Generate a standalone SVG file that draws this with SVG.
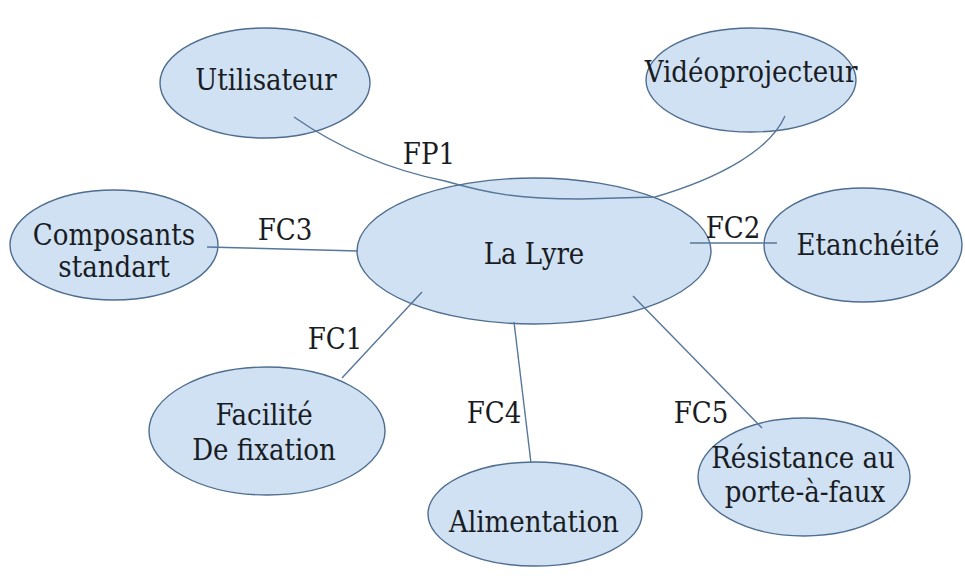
<svg xmlns="http://www.w3.org/2000/svg" width="965" height="576" viewBox="0 0 965 576">
  <style>
    .node ellipse { fill: #cfe1f2; stroke: #4f6d8f; stroke-width: 1.4; }
    .node text, .label { font-family: "DejaVu Serif Condensed", "DejaVu Serif", "Liberation Serif", serif; font-stretch: condensed; font-size: 29px; fill: #1a1c24; text-anchor: middle; }
    .edge { fill: none; stroke: #56769a; stroke-width: 1.4; }
  </style>
  <rect width="965" height="576" fill="#ffffff"/>

  <g id="la-lyre" class="node">
    <ellipse cx="534" cy="251" rx="177" ry="73"/>
    <text x="534" y="264">La Lyre</text>
  </g>
  <g id="utilisateur" class="node">
    <ellipse cx="265" cy="83" rx="105" ry="55"/>
    <text x="266" y="90">Utilisateur</text>
  </g>
  <g id="videoprojecteur" class="node">
    <ellipse cx="751" cy="80" rx="105" ry="52"/>
    <text x="751" y="82">Vidéoprojecteur</text>
  </g>
  <g id="composants" class="node">
    <ellipse cx="114" cy="245" rx="104" ry="55"/>
    <text x="114" y="245">Composants</text>
    <text x="114" y="277">standart</text>
  </g>
  <g id="etancheite" class="node">
    <ellipse cx="863" cy="245" rx="99" ry="57"/>
    <text x="868" y="255">Etanchéité</text>
  </g>
  <g id="fixation" class="node">
    <ellipse cx="267" cy="431" rx="118" ry="64"/>
    <text x="264" y="425">Facilité</text>
    <text x="264" y="460">De fixation</text>
  </g>
  <g id="alimentation" class="node">
    <ellipse cx="535" cy="514" rx="107" ry="52"/>
    <text x="534" y="532">Alimentation</text>
  </g>
  <g id="resistance" class="node">
    <ellipse cx="804" cy="477" rx="106" ry="59"/>
    <text x="803" y="468">Résistance au</text>
    <text x="805" y="502">porte-à-faux</text>
  </g>

  <g id="connectors">
    <path class="edge" d="M294,117 C330,142 380,168 445,181 C490,194 520,199 580,199 L655,197 C720,178 770,150 785,116"/>
    <line class="edge" x1="207" y1="247" x2="358" y2="251"/>
    <line class="edge" x1="690" y1="243" x2="777" y2="243"/>
    <line class="edge" x1="422" y1="292" x2="342" y2="378"/>
    <line class="edge" x1="514" y1="322" x2="531" y2="463"/>
    <line class="edge" x1="633" y1="296" x2="762" y2="428" stroke="#7a8fa6"/>
    <text class="label" x="429" y="164">FP1</text>
    <text class="label" x="285" y="240">FC3</text>
    <text class="label" x="733" y="238">FC2</text>
    <text class="label" x="335" y="349">FC1</text>
    <text class="label" x="494" y="423">FC4</text>
    <text class="label" x="701" y="423">FC5</text>
  </g>
</svg>
